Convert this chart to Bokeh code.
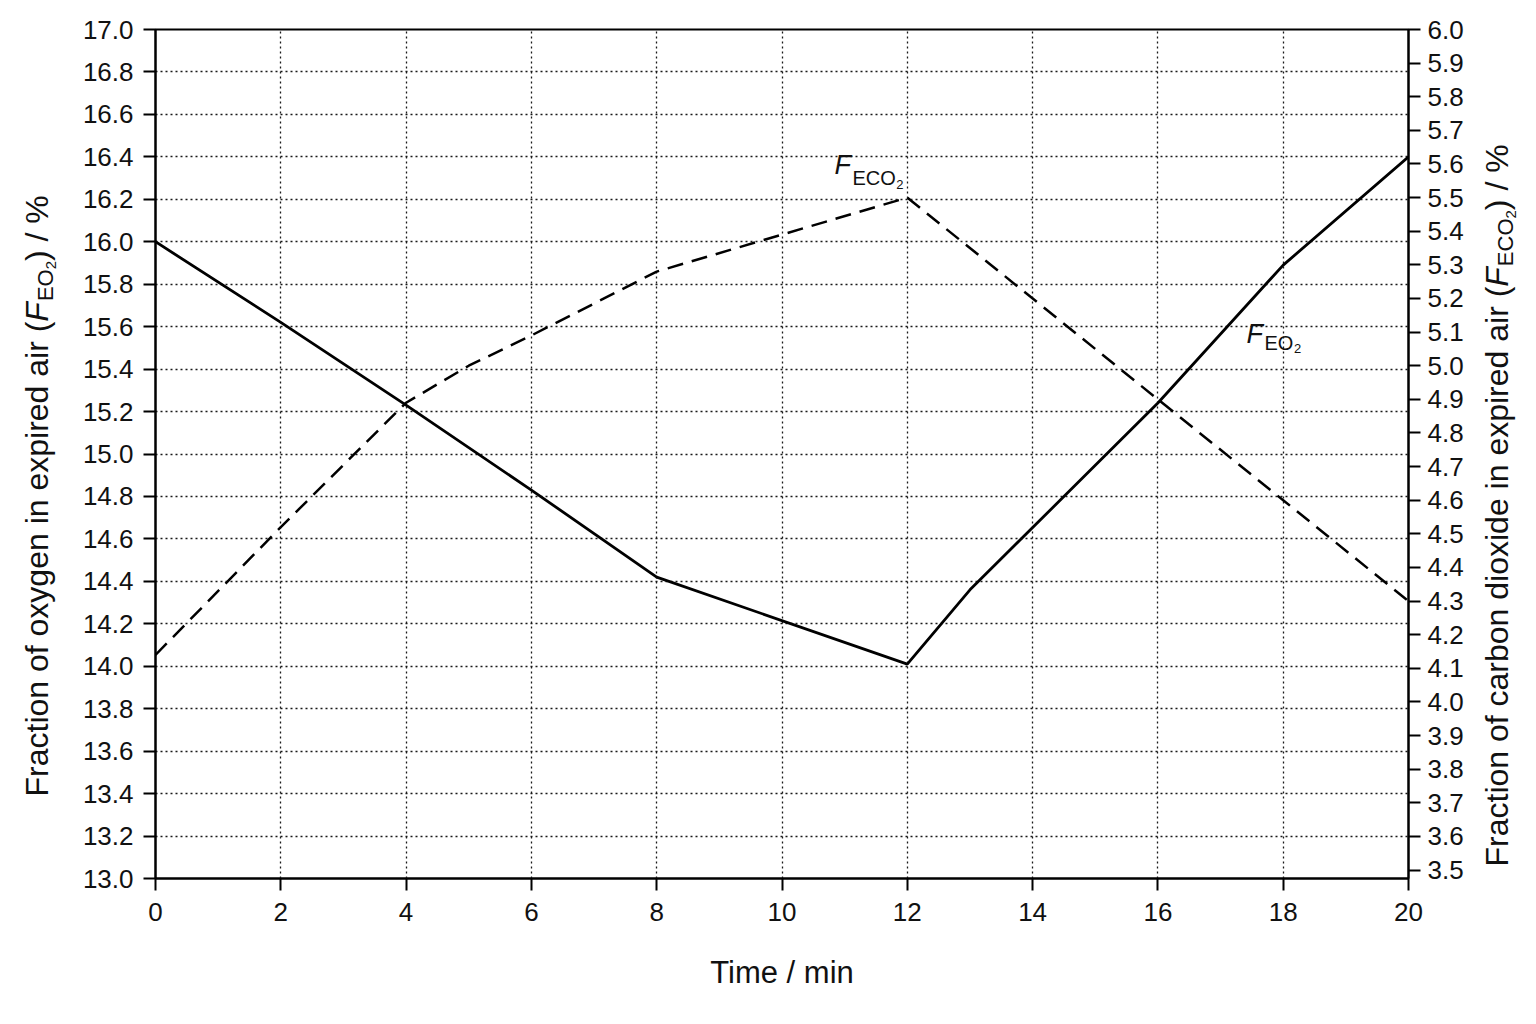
import math
from bokeh.plotting import figure
from bokeh.layouts import row
from bokeh.models import Range1d, LinearAxis, FixedTicker, PrintfTickFormatter, Label
from bokeh.embed import file_html
from bokeh.resources import INLINE

# ---------------- data ----------------
time_o2 = [0, 2, 4, 6, 8, 12, 13, 16, 18, 20]
fe_o2 = [16.0, 15.62, 15.23, 14.83, 14.42, 14.01, 14.36, 15.24, 15.89, 16.4]

time_co2 = [0, 2, 4, 5, 6, 8, 12, 16, 18, 20]
fe_co2 = [4.14, 4.52, 4.89, 5.0, 5.09, 5.28, 5.5, 4.9, 4.6, 4.3]

x_ticks = [0, 2, 4, 6, 8, 10, 12, 14, 16, 18, 20]
o2_ticks = [13.0, 13.2, 13.4, 13.6, 13.8, 14.0, 14.2, 14.4, 14.6, 14.8, 15.0,
            15.2, 15.4, 15.6, 15.8, 16.0, 16.2, 16.4, 16.6, 16.8, 17.0]
co2_ticks = [3.5, 3.6, 3.7, 3.8, 3.9, 4.0, 4.1, 4.2, 4.3, 4.4, 4.5, 4.6, 4.7,
             4.8, 4.9, 5.0, 5.1, 5.2, 5.3, 5.4, 5.5, 5.6, 5.7, 5.8, 5.9, 6.0]

x_title = "Time / min"
left_title = ["Fraction of oxygen in expired air (", "F", "EO", "2", ") / %"]
right_title = ["Fraction of carbon dioxide in expired air (", "F", "ECO", "2", ") / %"]
o2_label = ["F", "EO", "2"]
co2_label = ["F", "ECO", "2"]

# ---------------- layout ----------------
FONT = "Liberation Sans"
TXT = "#111111"
X0, X1 = 0, 20
Y0, Y1 = 13.0, 17.0
Y2_0, Y2_1 = 3.475, 6.0
H = 1000
TOTAL_W = 1520
LEFT_W = 70
FRAME_L, FRAME_T, FRAME_W, FRAME_H = 155, 29, 1253, 849
RIGHT_X = 1468
RIGHT_W = TOTAL_W - RIGHT_X
MID = 0.3465  # distance from alphabetic baseline to text middle, in em

p = figure(frame_width=FRAME_W, frame_height=FRAME_H,
           x_range=Range1d(X0, X1), y_range=Range1d(Y0, Y1),
           output_backend="svg", toolbar_location=None,
           min_border_left=FRAME_L - LEFT_W,
           min_border_right=RIGHT_X - FRAME_L - FRAME_W,
           min_border_top=FRAME_T, min_border_bottom=H - FRAME_T - FRAME_H,
           background_fill_color="white", border_fill_color="white",
           outline_line_color="black", outline_line_width=2)

p.extra_y_ranges = {"co2": Range1d(Y2_0, Y2_1)}
right_axis = LinearAxis(y_range_name="co2", ticker=FixedTicker(ticks=co2_ticks),
                        formatter=PrintfTickFormatter(format="%.1f"))
p.add_layout(right_axis, "right")

p.xaxis.ticker = FixedTicker(ticks=x_ticks)
p.yaxis[0].ticker = FixedTicker(ticks=o2_ticks)
p.yaxis[0].formatter = PrintfTickFormatter(format="%.1f")

for ax in [p.xaxis[0], p.yaxis[0], right_axis]:
    ax.axis_line_color = "black"
    ax.axis_line_width = 2
    ax.major_tick_line_color = "black"
    ax.major_tick_line_width = 2
    ax.major_tick_out = 12
    ax.major_tick_in = 0
    ax.minor_tick_line_color = None
    ax.major_label_text_font = FONT
    ax.major_label_text_font_size = "26px"
    ax.major_label_text_color = TXT

p.xaxis.major_label_standoff = 12
p.yaxis[0].major_label_standoff = 10
right_axis.major_label_standoff = 7

p.xaxis.axis_label = x_title
p.xaxis.axis_label_text_font = FONT
p.xaxis.axis_label_text_font_size = "31px"
p.xaxis.axis_label_text_font_style = "normal"
p.xaxis.axis_label_text_color = TXT
p.xaxis.axis_label_standoff = 31

p.xgrid.ticker = FixedTicker(ticks=x_ticks)
p.ygrid.ticker = FixedTicker(ticks=o2_ticks)
p.grid.grid_line_color = "#1a1a1a"
p.grid.grid_line_width = 1.3
p.grid.grid_line_dash = "2 3"

# ---------------- lines ----------------
p.line(time_o2, fe_o2, line_color="black", line_width=2.8)
p.line(time_co2, fe_co2, y_range_name="co2", line_color="black",
       line_width=2.5, line_dash="16 9")

# ---------------- text helpers ----------------
W = {' ': 278, '(': 333, ')': 333, '/': 278, '%': 889, 'F': 611, 'E': 667,
     'O': 778, 'C': 722, 'T': 611, '2': 556, 'a': 556, 'b': 556, 'c': 500,
     'd': 556, 'e': 556, 'f': 278, 'g': 556, 'h': 556, 'i': 222, 'l': 222,
     'm': 833, 'n': 556, 'o': 556, 'p': 556, 'r': 333, 's': 500, 't': 278,
     'x': 500, 'y': 500}


def tw(s, size):
    return sum(W.get(c, 556) for c in s) / 1000.0 * size


def label(fig, txt, x, y, size, style="normal", angle=0.0):
    fig.add_layout(Label(x=x, y=y, text=txt, angle=angle,
                         text_font=FONT, text_font_size=f"{size}px",
                         text_font_style=style, text_color=TXT,
                         text_align="left", text_baseline="middle"))


def side_figure(w):
    # the row aligns this frame with the main frame (picture y 29..878),
    # so data y = H - picture y maps 1:1 to pixels
    f = figure(width=w, height=H, x_range=Range1d(0, w),
               y_range=Range1d(H - FRAME_T - FRAME_H, H - FRAME_T),
               output_backend="svg", toolbar_location=None, min_border=0,
               x_axis_type=None, y_axis_type=None, outline_line_color=None,
               background_fill_color="white", border_fill_color="white")
    f.grid.visible = False
    return f


def rotated_title(fig, parts, base_x, start_y):
    # base_x: baseline x inside fig; start_y: picture y of text start (bottom)
    specs = [(32, "normal", 0), (32, "italic", 0), (22, "normal", 5),
             (15, "normal", 8), (32, "normal", 0)]
    y = H - start_y
    for txt, (size, style, shift) in zip(parts, specs):
        label(fig, txt, base_x + shift - MID * size, y, size, style, math.pi / 2)
        y += tw(txt, size) + (1 if style == "italic" else 0)


def dx(px):
    return X0 + (px - FRAME_L) / FRAME_W * (X1 - X0)


def dy(py):
    return Y1 - (py - FRAME_T) / FRAME_H * (Y1 - Y0)


def inline_label(parts, x, base_y, shifts):
    specs = [(27, "italic"), (20, "normal"), (13, "normal")]
    cx = x
    for txt, (size, style), sh in zip(parts, specs, shifts):
        label(p, txt, dx(cx), dy(base_y + sh - MID * size), size, style)
        cx += tw(txt, size) + (1.5 if style == "italic" else 0.5)


left_fig = side_figure(LEFT_W)
right_fig = side_figure(RIGHT_W)
rotated_title(left_fig, left_title, 48, 796)
rotated_title(right_fig, right_title, 1508 - RIGHT_X, 866)
inline_label(co2_label, 834, 174, [0, 10, 15])
inline_label(o2_label, 1246, 343, [0, 6, 10])

layout = row(left_fig, p, right_fig, spacing=0)

html = file_html(layout, INLINE)
with open("out.html", "w") as f:
    f.write(html)
